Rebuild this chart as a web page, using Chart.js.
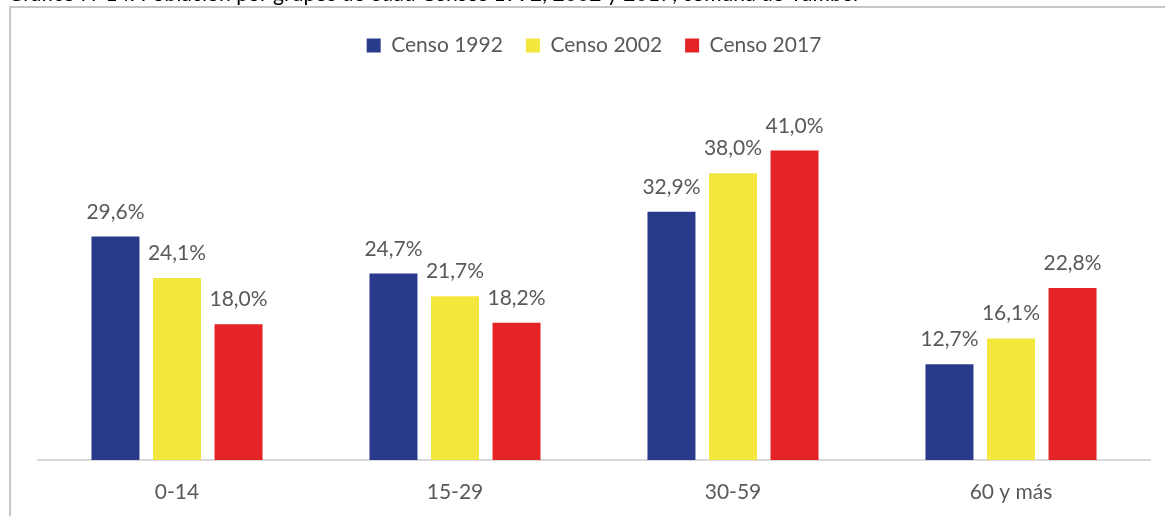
<!DOCTYPE html>
<html>
<head>
<meta charset="utf-8">
<script src="https://cdn.jsdelivr.net/npm/chart.js@4.4.1/dist/chart.umd.min.js"></script>
<style>
  html, body { margin: 0; padding: 0; background: #ffffff; overflow: hidden; }
  #wrap { position: relative; width: 1165px; height: 516px; overflow: hidden; }
  canvas { position: absolute; left: 0; top: 0; }
</style>
</head>
<body>
<div id="wrap"><canvas id="c" width="1165" height="524"></canvas></div>
<script>
const TITLE = "Gráfico N°14: Población por grupos de edad Censos 1992, 2002 y 2017, comuna de Yumbel";
const categories = ["0-14", "15-29", "30-59", "60 y más"];
const seriesNames = ["Censo 1992", "Censo 2002", "Censo 2017"];
const censo1992 = [29.6, 24.7, 32.9, 12.7];
const censo2002 = [24.1, 21.7, 38.0, 16.1];
const censo2017 = [18.0, 18.2, 41.0, 22.8];
const seriesColors = ["#2A3A8B", "#F3E63C", "#E32326"];

const FONT = "Lato";
const TEXT_COLOR = "#595959";

const fmt = v => v.toFixed(1).replace(".", ",") + "%";

const framePlugin = {
  id: "frame",
  beforeDraw(chart) {
    const ctx = chart.ctx;
    ctx.save();
    ctx.strokeStyle = "#c6c6c6";
    ctx.lineWidth = 2;
    ctx.beginPath();
    ctx.moveTo(10, 600);
    ctx.lineTo(10, 7);
    ctx.lineTo(1200, 7);
    ctx.stroke();
    // partially visible title (cut off at the top of the picture)
    ctx.fillStyle = "#000000";
    ctx.textBaseline = "alphabetic";
    ctx.textAlign = "left";
    let size = 20;
    ctx.font = size + "px " + FONT;
    const w = ctx.measureText(TITLE).width;
    size = size * 850 / w;
    ctx.font = size + "px " + FONT;
    ctx.fillText(TITLE, 8, 1);
    ctx.restore();
  }
};

const labelPlugin = {
  id: "barLabels",
  afterDatasetsDraw(chart) {
    const ctx = chart.ctx;
    ctx.save();
    ctx.font = "21px " + FONT;
    ctx.fillStyle = TEXT_COLOR;
    ctx.textAlign = "center";
    ctx.textBaseline = "alphabetic";
    chart.data.datasets.forEach((ds, di) => {
      const meta = chart.getDatasetMeta(di);
      meta.data.forEach((bar, i) => {
        ctx.fillText(fmt(ds.data[i]), bar.x, bar.y - 18);
      });
    });
    ctx.restore();
  }
};

new Chart(document.getElementById("c"), {
  type: "bar",
  data: {
    labels: categories,
    datasets: [
      { label: seriesNames[0], data: censo1992, backgroundColor: seriesColors[0] },
      { label: seriesNames[1], data: censo2002, backgroundColor: seriesColors[1] },
      { label: seriesNames[2], data: censo2017, backgroundColor: seriesColors[2] }
    ]
  },
  options: {
    responsive: false,
    animation: false,
    devicePixelRatio: 1,
    layout: { padding: { top: 12, left: 38, right: 15, bottom: 0 } },
    datasets: { bar: { categoryPercentage: 0.664, barPercentage: 0.78 } },
    plugins: {
      legend: {
        position: "top",
        align: "center",
        labels: {
          boxWidth: 14,
          boxHeight: 14,
          padding: 23,
          color: TEXT_COLOR,
          font: { family: FONT, size: 21 }
        }
      },
      tooltip: { enabled: false },
      title: { display: false }
    },
    scales: {
      x: {
        grid: { display: false, drawTicks: false },
        border: { display: true, color: "#d9d9d9", width: 2 },
        ticks: { color: TEXT_COLOR, font: { family: FONT, size: 21 }, padding: 19.4 }
      },
      y: {
        display: false,
        min: 0,
        max: 52.2
      }
    }
  },
  plugins: [framePlugin, labelPlugin]
});
</script>
</body>
</html>
